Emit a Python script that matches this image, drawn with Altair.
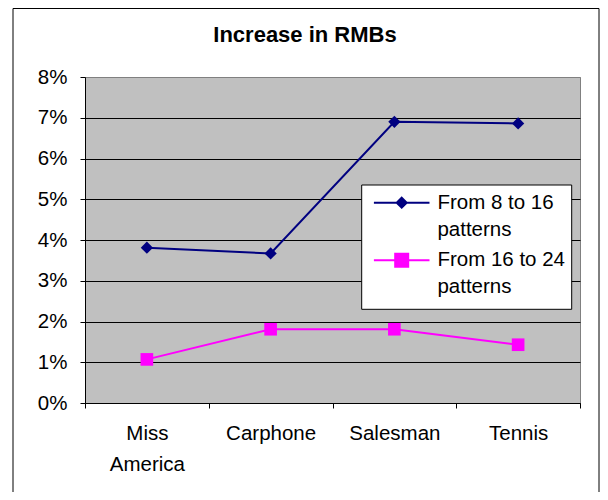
import altair as alt
import pandas as pd

title_text = "Increase in RMBs"
categories = ["Miss America", "Carphone", "Salesman", "Tennis"]
series_names = ["From 8 to 16 patterns", "From 16 to 24 patterns"]
s1_values = [0.0381, 0.0367, 0.0690, 0.0686]
s2_values = [0.0107, 0.0181, 0.0181, 0.0143]
y_ticks = [i / 100 for i in range(9)]
colors = ["#000080", "#FF00FF"]
legend_paths = [
    "M-1,0H1M0,-0.18L0.18,0L0,0.18L-0.18,0Z",
    "M-1,0H1M-0.234,-0.234H0.234V0.234H-0.234Z",
]

rows = []
for c, v in zip(categories, s1_values):
    rows.append({"category": c, "series": series_names[0], "value": v})
for c, v in zip(categories, s2_values):
    rows.append({"category": c, "series": series_names[1], "value": v})
df = pd.DataFrame(rows)

FONT = "Liberation Sans"

x_enc = alt.X(
    "category:N",
    sort=categories,
    bandPosition=0.5,
    scale=alt.Scale(type="band", paddingInner=0, paddingOuter=0),
    axis=alt.Axis(
        title=None, labelAngle=0, grid=False,
        labelExpr="datum.label == 'Miss America' ? split(datum.label, ' ') : datum.label",
        labelFont=FONT, labelFontSize=20.5, labelColor="black",
        labelLineHeight=31, labelPadding=15, labelBaseline="top",
        tickSize=5, tickColor="black", tickBand="extent",
        domainColor="black", labelFlush=False,
    ),
)
y_enc = alt.Y(
    "value:Q",
    scale=alt.Scale(domain=[0, 0.08], nice=False),
    axis=alt.Axis(
        title=None, values=y_ticks, format=".0%",
        labelFont=FONT, labelFontSize=20.5, labelColor="black",
        labelPadding=13, tickSize=5, tickColor="black",
        domainColor="black", grid=True,
        gridColor=alt.condition("datum.value >= 0.079", alt.value("#808080"), alt.value("black")),
        gridWidth=1, labelFlush=False,
    ),
)

base = alt.Chart(df).encode(x=x_enc, y=y_enc)

line = base.mark_line(strokeWidth=2).encode(
    color=alt.Color("series:N", scale=alt.Scale(domain=series_names, range=colors), legend=None)
)


def legend_for(i, legend_y):
    return alt.Legend(
        title=None, orient="none", legendX=287.7, legendY=legend_y,
        padding=0, labelFont=FONT, labelFontSize=20.5, labelColor="black",
        symbolType=legend_paths[i], symbolSize=3091, symbolStrokeWidth=2,
        symbolStrokeColor=colors[i], symbolFillColor=colors[i], symbolOffset=0,
        labelOffset=6.7, labelLimit=300,
        labelExpr="[replace(datum.label, ' patterns', ''), 'patterns']",
    )


pts1 = base.transform_filter(alt.datum.series == series_names[0]).mark_point(
    shape="diamond", filled=True, size=150, opacity=1
).encode(
    color=alt.Color("series:N", scale=alt.Scale(domain=[series_names[0]], range=[colors[0]]),
                    legend=legend_for(0, 96.7))
)
pts2 = base.transform_filter(alt.datum.series == series_names[1]).mark_point(
    shape="square", filled=True, size=160, opacity=1
).encode(
    color=alt.Color("series:N", scale=alt.Scale(domain=[series_names[1]], range=[colors[1]]),
                    legend=legend_for(1, 154.3))
)

legend_box = alt.Chart(pd.DataFrame({"a": [0]})).mark_rect(
    fill="white", stroke="black", strokeWidth=1
).encode(
    x=alt.value(276.7), x2=alt.value(486.7), y=alt.value(108), y2=alt.value(232.3)
)

frame = alt.Chart(pd.DataFrame({"a": [0]})).mark_rect(
    fillOpacity=0, stroke="black", strokeWidth=1
).encode(
    x=alt.value(-72), x2=alt.value(514), y=alt.value(-68.5), y2=alt.value(430)
)

title = alt.Chart(pd.DataFrame({"t": [title_text]})).mark_text(
    font=FONT, fontSize=22, fontWeight="bold", color="black",
    align="center", baseline="alphabetic",
).encode(text="t:N", x=alt.value(220), y=alt.value(-35))

chart = alt.layer(frame, line, pts1, pts2, legend_box, title).resolve_scale(
    color="independent"
).properties(
    width=495, height=326,
    autosize=alt.AutoSizeParams(type="none"),
    padding={"left": 77, "top": 69, "right": 20, "bottom": 89},
).configure(
    background="white",
    style={
        "guide-label": {"lineHeight": 27},
        "cell": {"fill": "#C0C0C0", "stroke": "#808080", "strokeWidth": 1},
    },
).configure_view(
    fill="#C0C0C0", stroke="#808080", strokeWidth=1
)

chart.save("out.html", embed_options={"renderer": "svg", "actions": False})
